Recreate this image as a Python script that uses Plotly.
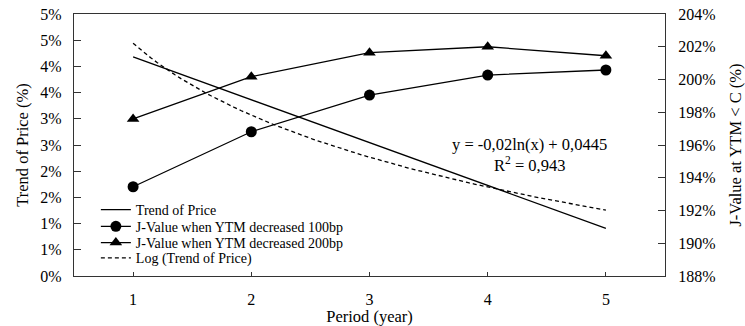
import numpy as np
import plotly.graph_objects as go

period = [1, 2, 3, 4, 5]
trend_of_price = [0.0418, 0.0336, 0.0255, 0.0173, 0.0091]
jvalue_100bp = [1.9345, 1.9681, 1.9905, 2.0027, 2.0058]
jvalue_200bp = [1.9759, 2.0017, 2.0164, 2.0200, 2.0145]

left_tick_vals = [0, 0.005, 0.01, 0.015, 0.02, 0.025, 0.03, 0.035, 0.04, 0.045, 0.05]
left_tick_labels = ["0%", "1%", "1%", "2%", "2%", "3%", "3%", "4%", "4%", "5%", "5%"]
right_tick_vals = [1.88, 1.90, 1.92, 1.94, 1.96, 1.98, 2.00, 2.02, 2.04]
right_tick_labels = ["188%", "190%", "192%", "194%", "196%", "198%", "200%", "202%", "204%"]

# logarithmic trendline fitted to Trend of Price
coef = np.polyfit(np.log(period), trend_of_price, 1)
x_fit = np.linspace(1, 5, 80)
y_fit = coef[0] * np.log(x_fit) + coef[1]

FONT = "Liberation Serif, Times New Roman, serif"
AX = "#333333"

fig = go.Figure()
fig.add_trace(go.Scatter(x=period, y=trend_of_price, mode="lines", name="Trend of Price",
                         legend="legend",
                         line=dict(color="black", width=1.3)))
fig.add_trace(go.Scatter(x=period, y=jvalue_100bp, mode="lines+markers",
                         name="J-Value when YTM decreased 100bp", yaxis="y2", legend="legend2",
                         line=dict(color="black", width=1.3),
                         marker=dict(symbol="circle", size=11, color="black")))
fig.add_trace(go.Scatter(x=period, y=jvalue_200bp, mode="lines+markers",
                         name="J-Value when YTM decreased 200bp", yaxis="y2", legend="legend3",
                         line=dict(color="black", width=1.3),
                         marker=dict(symbol="triangle-up", size=11, color="black")))
fig.add_trace(go.Scatter(x=x_fit, y=y_fit, mode="lines", name="Log (Trend of Price)",
                         legend="legend4",
                         line=dict(color="black", width=1.3, dash="4px,3px")))

def leg(yc):
    return dict(x=0.037, y=yc, xanchor="left", yanchor="middle",
                bgcolor="rgba(0,0,0,0)", font=dict(size=14, family=FONT),
                itemwidth=30, borderwidth=0)

fig.update_layout(
    width=745, height=326,
    margin=dict(l=74, r=80, t=14, b=50),
    paper_bgcolor="white", plot_bgcolor="white",
    font=dict(family=FONT, size=15, color="black"),
    showlegend=True,
    legend=leg(0.252),
    legend2=leg(0.188),
    legend3=leg(0.126),
    legend4=leg(0.068),
    xaxis=dict(range=[0.5, 5.5], tickvals=period, ticks="inside", ticklen=4,
               tickcolor=AX, showline=True, linecolor=AX, linewidth=1.3, mirror=True,
               showgrid=False, zeroline=False, ticklabelstandoff=9, automargin=False,
               tickfont=dict(size=16),
               title=dict(text="Period (year)", standoff=2, font=dict(size=16.5))),
    yaxis=dict(range=[0, 0.05], tickvals=left_tick_vals, ticktext=left_tick_labels,
               ticks="inside", ticklen=7, tickcolor=AX, showline=True, linecolor=AX,
               linewidth=1.3, showgrid=False, zeroline=False, ticklabelstandoff=8,
               automargin=False, tickfont=dict(size=16),
               title=dict(text="Trend of Price (%)", standoff=7, font=dict(size=16.5))),
    yaxis2=dict(range=[1.88, 2.04], tickvals=right_tick_vals, ticktext=right_tick_labels,
                overlaying="y", side="right", ticks="inside", ticklen=7, tickcolor=AX,
                showline=True, linecolor=AX, linewidth=1.3, showgrid=False, zeroline=False,
                ticklabelstandoff=9, automargin=False, tickfont=dict(size=16),
                title=dict(text="J-Value at YTM < C (%)", standoff=19, font=dict(size=16.5))),
    annotations=[
        dict(text="y = -0,02ln(x) + 0,0445", x=4.35, y=0.0251, xref="x", yref="y",
             showarrow=False, font=dict(size=16.5, family=FONT)),
        dict(text="R<sup>2</sup> = 0,943", x=4.35, y=0.0213, xref="x", yref="y",
             showarrow=False, font=dict(size=16.5, family=FONT)),
    ],
)

fig.write_html("out.html", config={"displayModeBar": False},
               post_script="document.body.style.margin='0';document.body.style.padding='0';")
